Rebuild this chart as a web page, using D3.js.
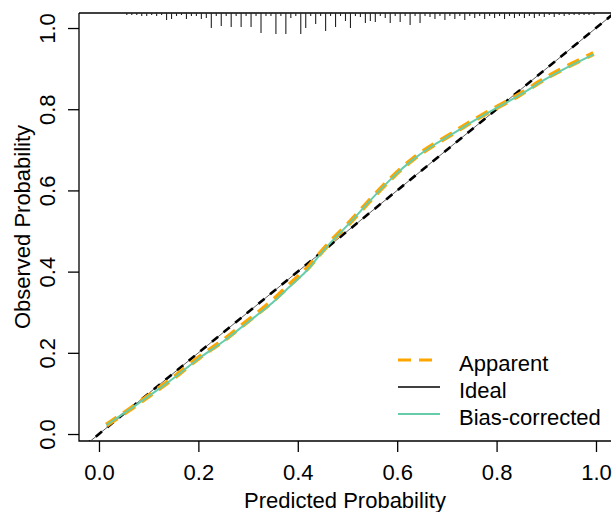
<!DOCTYPE html>
<html><head><meta charset="utf-8">
<script src="https://cdn.jsdelivr.net/npm/d3@7"></script>
<style>html,body{margin:0;padding:0;background:#fff;} svg{display:block;}</style>
</head><body>
<svg id="chart" width="613" height="512"></svg>
<script>
// ---- data ----
const apparentX = [0.015,0.07,0.116,0.156,0.203,0.25,0.297,0.344,0.384,0.418,0.43,0.465,0.498,0.545,0.592,0.632,0.673,0.72,0.74,0.793,0.847,0.894,0.941,0.995];
const apparentY = [0.022,0.067,0.108,0.143,0.192,0.228,0.277,0.320,0.369,0.405,0.423,0.474,0.511,0.576,0.636,0.679,0.713,0.746,0.763,0.800,0.835,0.874,0.905,0.937];
const biasX = [0.015,0.07,0.116,0.156,0.203,0.25,0.297,0.344,0.384,0.418,0.43,0.465,0.498,0.545,0.592,0.632,0.673,0.72,0.74,0.793,0.847,0.894,0.941,0.995];
const biasY = [0.022,0.067,0.107,0.142,0.190,0.226,0.274,0.316,0.364,0.401,0.420,0.472,0.510,0.575,0.635,0.678,0.712,0.745,0.762,0.799,0.834,0.872,0.903,0.935];
const histStart = 0.056, histStep = 0.01;
const histCounts = [2,2,2,3,3,2,3,2,7,6,3,2,6,3,3,6,5,15,3,13,3,14,3,14,3,14,3,20,3,3,21,3,21,5,3,21,15,3,11,3,18,3,14,3,8,15,3,4,10,8,9,3,5,10,3,9,3,12,3,10,3,4,6,3,7,3,6,3,7,3,5,3,6,3,5,3,6,3,5,3,5,3,5,3,4,2,4,2,3,2,2,2,2,2,2];
const tickVals = [0,0.2,0.4,0.6,0.8,1.0];
const legendLabels = ["Apparent","Ideal","Bias-corrected"];
const xLabel = "Predicted Probability", yLabel = "Observed Probability";

// ---- layout ----
const L = 79, R = 611, T = 13, B = 441;
const FONT = "'Liberation Sans', Arial, sans-serif";
const svg = d3.select("#chart");
const x = d3.scaleLinear().domain([-0.0402, 1.0302]).range([L, R]);
const y = d3.scaleLinear().domain([-0.0172, 1.037]).range([B, T]);

svg.append("defs").append("clipPath").attr("id","clip")
  .append("rect").attr("x",L).attr("y",T).attr("width",R-L).attr("height",B-T);

// axes
const gx = svg.append("g").attr("transform",`translate(0,${B})`)
  .call(d3.axisBottom(x).tickValues(tickVals).tickFormat(d3.format(".1f")).tickSize(11).tickPadding(12));
gx.select(".domain").remove();
gx.selectAll("line").attr("stroke","#000").attr("stroke-width",1.3);
gx.selectAll("text").attr("font-family",FONT).attr("font-size",22).attr("fill","#000");

const gy = svg.append("g").attr("transform",`translate(${L},0)`)
  .call(d3.axisLeft(y).tickValues(tickVals).tickFormat(d3.format(".1f")).tickSize(11));
gy.select(".domain").remove();
gy.selectAll("line").attr("stroke","#000").attr("stroke-width",1.3);
gy.selectAll("text").attr("font-family",FONT).attr("font-size",22).attr("fill","#000")
  .attr("transform","rotate(-90)").attr("x",0).attr("y",-24).attr("dy",0)
  .attr("text-anchor","middle");

// L-shaped frame + top baseline of spike histogram
svg.append("path").attr("d",`M${L},${T}V${B}H${R}`).attr("fill","none").attr("stroke","#000").attr("stroke-width",1.3);
svg.append("line").attr("x1",L).attr("x2",R).attr("y1",T).attr("y2",T).attr("stroke","#000").attr("stroke-width",1.3);

// spike histogram
const hLen = d3.scaleLinear().domain([0, d3.max(histCounts)]).range([0, 21]);
svg.append("g").selectAll("line").data(histCounts).join("line")
  .attr("x1",(d,i)=>x(histStart+i*histStep)).attr("x2",(d,i)=>x(histStart+i*histStep))
  .attr("y1",T).attr("y2",d=>T+hLen(d))
  .attr("stroke","#222").attr("stroke-width",1.1);

const plot = svg.append("g").attr("clip-path","url(#clip)");
const line = d3.line().x(d=>x(d[0])).y(d=>y(d[1])).curve(d3.curveBasis);
const app = apparentX.map((v,i)=>[v,apparentY[i]]);
const bias = biasX.map((v,i)=>[v,biasY[i]]);

// ideal
const ideal = [[-0.1,-0.1],[1.1,1.1]];
const iline = d3.line().x(d=>x(d[0])).y(d=>y(d[1]));
plot.append("path").datum(ideal).attr("d",iline)
  .attr("stroke","#333").attr("stroke-width",0.8);
plot.append("path").datum(ideal).attr("d",iline)
  .attr("stroke","#000").attr("stroke-width",2.6).attr("stroke-dasharray","8,7");

plot.append("path").datum(app).attr("d",line).attr("fill","none")
  .attr("stroke","#FFA500").attr("stroke-width",5).attr("stroke-dasharray","13,8");
plot.append("path").datum(bias).attr("d",line).attr("fill","none")
  .attr("stroke","#66CDAA").attr("stroke-width",2);

// axis titles
svg.append("text").attr("x",(L+R)/2).attr("y",508).attr("text-anchor","middle")
  .attr("font-family",FONT).attr("font-size",22).attr("fill","#000").text(xLabel);
svg.append("text").attr("transform",`translate(30,${(T+B)/2}) rotate(-90)`).attr("text-anchor","middle")
  .attr("font-family",FONT).attr("font-size",22).attr("fill","#000").text(yLabel);

// legend
const legStyles = [
  {stroke:"#FFA500", w:3, dash:"13,8"},
  {stroke:"#000", w:1.5, dash:null},
  {stroke:"#66CDAA", w:2, dash:null}
];
const lg = svg.append("g");
legendLabels.forEach((lab,i)=>{
  const cy = 360 + i*27;
  const l = lg.append("line").attr("x1",398).attr("x2",440).attr("y1",cy).attr("y2",cy)
    .attr("stroke",legStyles[i].stroke).attr("stroke-width",legStyles[i].w);
  if (legStyles[i].dash) l.attr("stroke-dasharray",legStyles[i].dash);
  lg.append("text").attr("x",459).attr("y",cy+10.5).attr("font-family",FONT).attr("font-size",22)
    .attr("fill","#000").text(lab);
});
</script>
</body></html>
